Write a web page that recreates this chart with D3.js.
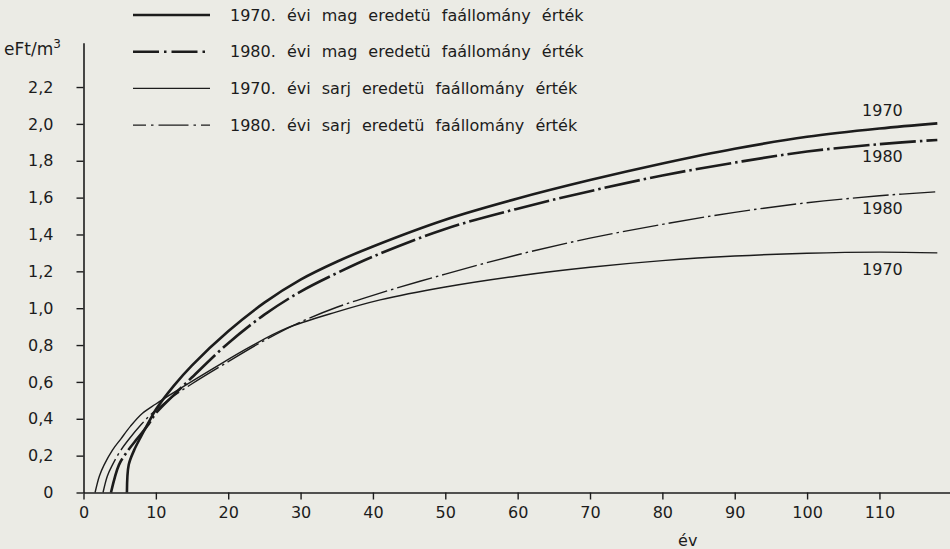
<!DOCTYPE html>
<html><head><meta charset="utf-8">
<script src="https://cdn.jsdelivr.net/npm/d3@7"></script>
<style>
html,body{margin:0;padding:0;background:#ebebe5;}
svg{display:block;}
text{font-family:"DejaVu Sans",sans-serif;fill:#1c1c1c;}
</style></head><body>
<svg id="chart" width="950" height="549"></svg>
<script>
// ---- data ----
const xTicks = [0,10,20,30,40,50,60,70,80,90,100,110];
const yTicks = [0,0.2,0.4,0.6,0.8,1.0,1.2,1.4,1.6,1.8,2.0,2.2];
const yUnit = "eFt/m";
const xTitle = "év";
const legendLabels = [
  "1970. évi mag eredetü faállomány érték",
  "1980. évi mag eredetü faállomány érték",
  "1970. évi sarj eredetü faállomány érték",
  "1980. évi sarj eredetü faállomány érték"
];
const endLabels = ["1970","1980","1970","1980"];

const mag1970Years  = [6.0, 6.25, 7.0, 7.9, 9.0, 10.0, 12.5, 15, 20, 25, 30, 35, 40, 50, 60, 70, 80, 90, 100, 110, 118];
const mag1970Values = [0, 0.15, 0.23, 0.30, 0.38, 0.45, 0.58, 0.69, 0.875, 1.03, 1.155, 1.252, 1.335, 1.48, 1.595, 1.695, 1.785, 1.865, 1.93, 1.975, 2.003];

const mag1980Years  = [3.8, 4.9, 6.0, 7.46, 9.0, 10.0, 12.5, 15, 20, 25, 30, 35, 40, 50, 60, 70, 80, 90, 100, 110, 118];
const mag1980Values = [0, 0.15, 0.22, 0.294, 0.37, 0.43, 0.53, 0.625, 0.81, 0.965, 1.09, 1.19, 1.28, 1.43, 1.54, 1.635, 1.72, 1.79, 1.85, 1.89, 1.913];

const sarj1970Years  = [1.6, 2.2, 2.85, 4.0, 5.15, 6.5, 8.15, 10, 13, 18, 23, 28, 35, 41, 50, 60, 70, 80, 90, 100, 110, 118];
const sarj1970Values = [0, 0.09, 0.15, 0.23, 0.29, 0.36, 0.43, 0.48, 0.555, 0.675, 0.79, 0.89, 0.98, 1.045, 1.115, 1.175, 1.222, 1.258, 1.283, 1.298, 1.304, 1.30];

const sarj1980Years  = [2.7, 3.3, 4.0, 5.0, 6.3, 8.0, 9.5, 12, 15, 20, 25, 30, 35, 40, 50, 60, 70, 80, 90, 100, 110, 118];
const sarj1980Values = [0, 0.09, 0.15, 0.22, 0.29, 0.37, 0.43, 0.51, 0.59, 0.71, 0.825, 0.925, 1.005, 1.07, 1.185, 1.29, 1.38, 1.455, 1.52, 1.572, 1.61, 1.632];

// ---- setup ----
const ink = "#1c1c1c";
const svg = d3.select("#chart");
const x = d3.scaleLinear().domain([0, 120]).range([83.5, 951.8]);
const y = d3.scaleLinear().domain([0, 2.44]).range([492.5, 42.8]);

const series = [
  {years: mag1970Years,  values: mag1970Values,  width: 2.6, dash: null,         legDash: null,         legOff: 0,  label: endLabels[0], above: true},
  {years: mag1980Years,  values: mag1980Values,  width: 2.6, dash: "36,4,2.5,4", legDash: "26,5,2.5,5", legOff: 0,  label: endLabels[1], above: false},
  {years: sarj1970Years, values: sarj1970Values, width: 1.4, dash: null,         legDash: null,         legOff: 0,  label: endLabels[2], above: false},
  {years: sarj1980Years, values: sarj1980Values, width: 1.4, dash: "36,4,2.5,4", legDash: "30,5,2.5,5", legOff: 17, label: endLabels[3], above: false}
];

// ---- axes ----
const fmt = d => d === 0 ? "0" : d3.format(".1f")(d).replace(".", ",");

const gx = svg.append("g").attr("transform", `translate(0,${y(0)})`)
  .call(d3.axisBottom(x).tickValues(xTicks).tickSize(7).tickSizeOuter(0).tickPadding(7));
const gy = svg.append("g").attr("transform", `translate(${x(0)},0)`)
  .call(d3.axisLeft(y).tickValues(yTicks).tickFormat(fmt).tickSize(7).tickSizeOuter(0).tickPadding(23));

[gx, gy].forEach(g => {
  g.select(".domain").attr("stroke", ink).attr("stroke-width", 1.6);
  g.selectAll(".tick line").attr("stroke", ink).attr("stroke-width", 1.4);
  g.selectAll(".tick text").attr("fill", ink).style("font-family", "DejaVu Sans").style("font-size", "16px");
});

// axis titles
const unit = svg.append("text").attr("x", 4).attr("y", 55).style("font-size", "17px");
unit.append("tspan").text(yUnit);
unit.append("tspan").attr("dy", -7).style("font-size", "12px").text("3");

svg.append("text").attr("x", x(83.5)).attr("y", 546).attr("text-anchor", "middle")
  .style("font-size", "16px").text(xTitle);

// ---- curves ----
const line = d3.line().x(d => x(d[0])).y(d => y(d[1])).curve(d3.curveCatmullRom.alpha(0.5));
series.forEach(s => {
  const pts = s.years.map((yr, i) => [yr, s.values[i]]);
  svg.append("path").datum(pts).attr("d", line)
    .attr("fill", "none").attr("stroke", ink).attr("stroke-width", s.width)
    .attr("stroke-dasharray", s.dash).attr("stroke-linejoin", "round");
  const last = pts[pts.length - 1];
  svg.append("text").attr("x", x(107.6))
    .attr("y", y(last[1]) + (s.above ? -7 : 22))
    .style("font-size", "16px").text(s.label);
});

// ---- legend ----
const leg = svg.append("g");
series.forEach((s, i) => {
  const cy = 15 + i * 36.7;
  leg.append("line").attr("x1", 133).attr("x2", 210).attr("y1", cy).attr("y2", cy)
    .attr("stroke", ink).attr("stroke-width", s.width)
    .attr("stroke-dasharray", s.legDash).attr("stroke-dashoffset", s.legOff);
  leg.append("text").attr("x", 230).attr("y", cy).attr("dy", "0.36em")
    .style("font-size", "16px").style("word-spacing", "6px").text(legendLabels[i]);
});
</script>
</body></html>
